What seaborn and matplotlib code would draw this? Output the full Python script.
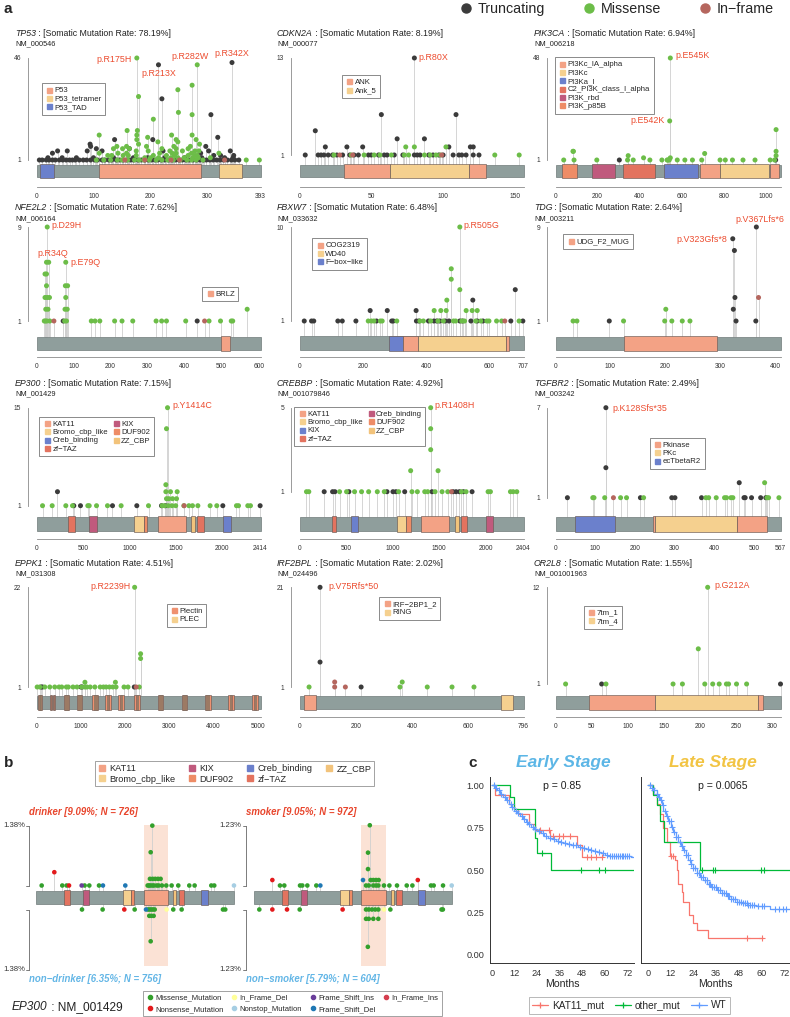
import numpy as np
import pandas as pd
import seaborn as sns
import matplotlib.pyplot as plt
from matplotlib.lines import Line2D
from matplotlib.patches import Rectangle

sns.set_style("white")
plt.rcParams['font.family'] = ['Liberation Sans', 'DejaVu Sans']

W, H = 790, 1017

# ---------------- panel a data ----------------
GENE_NAMES = ['TP53', 'CDKN2A', 'PIK3CA', 'NFE2L2', 'FBXW7', 'TDG',
              'EP300', 'CREBBP', 'TGFBR2', 'EPPK1', 'IRF2BPL', 'OR2L8']
REFSEQ = ['NM_000546', 'NM_000077', 'NM_006218', 'NM_006164', 'NM_033632', 'NM_003211',
          'NM_001429', 'NM_001079846', 'NM_003242', 'NM_031308', 'NM_024496', 'NM_001001963']
RATES = ['78.19', '8.19', '6.94', '7.62', '6.48', '2.64', '7.15', '4.92', '2.49', '4.51', '2.02', '1.55']
LENGTHS = [393, 156, 1068, 605, 707, 410, 2414, 2404, 567, 5065, 796, 312]
YMAX = [46, 13, 48, 9, 10, 9, 15, 5, 7, 22, 21, 12]
XTICKS = [[0, 100, 200, 300, 393], [0, 50, 100, 150], [0, 200, 400, 600, 800, 1000],
          [0, 100, 200, 300, 400, 500, 600], [0, 200, 400, 600, 707], [0, 100, 200, 300, 400],
          [0, 500, 1000, 1500, 2000, 2414], [0, 500, 1000, 1500, 2000, 2404],
          [0, 100, 200, 300, 400, 500, 567], [0, 1000, 2000, 3000, 4000, 5000],
          [0, 200, 400, 600, 796], [0, 50, 100, 150, 200, 250, 300]]

TP53_DOM = [('P53_TAD', 6, 30), ('P53', 110, 289), ('P53_tetramer', 320, 360)]
CDKN2A_DOM = [('ANK', 31, 63), ('Ank_5', 63, 118), ('ANK', 118, 130)]
PIK3CA_DOM = [('PI3K_p85B', 33, 104), ('PI3K_rbd', 171, 283), ('C2_PI3K_class_I_alpha', 319, 474),
              ('PI3Ka_I', 513, 678), ('PI3Kc_IA_alpha', 684, 782), ('PI3Kc', 782, 1015),
              ('PI3Kc_IA_alpha', 1018, 1060)]
NFE2L2_DOM = [('BRLZ', 498, 522)]
FBXW7_DOM = [('F\u2212box\u2212like', 282, 326), ('COG2319', 326, 374), ('WD40', 374, 653), ('COG2319', 653, 662)]
TDG_DOM = [('UDG_F2_MUG', 124, 294)]
EP300_DOM = [('zf\u2212TAZ', 341, 417), ('KIX', 571, 650), ('Bromo_cbp_like', 1056, 1156),
             ('DUF902', 1160, 1196), ('KAT11', 1311, 1609), ('ZZ_CBP', 1667, 1710),
             ('zf\u2212TAZ', 1735, 1807), ('Creb_binding', 2008, 2094)]
CREBBP_DOM = [('zf\u2212TAZ', 344, 394), ('KIX', 548, 627), ('Bromo_cbp_like', 1050, 1147),
              ('DUF902', 1147, 1193), ('KAT11', 1300, 1605), ('ZZ_CBP', 1666, 1709),
              ('zf\u2212TAZ', 1734, 1799), ('Creb_binding', 1999, 2078)]
TGFBR2_DOM = [('ecTbetaR2', 48, 150), ('Pkinase', 246, 251), ('PKc', 251, 457), ('Pkinase', 457, 532)]
EPPK1_DOM = [('Plectin', 35, 125), ('Plectin', 300, 350), ('Plectin', 365, 420), ('Plectin', 615, 740),
             ('Plectin', 910, 1040), ('Plectin', 1265, 1400), ('Plectin', 1555, 1690),
             ('Plectin', 1840, 1975), ('Plectin', 2200, 2330), ('Plectin', 2740, 2870),
             ('Plectin', 3280, 3410), ('Plectin', 3800, 3935), ('Plectin', 4335, 4465),
             ('Plectin', 4870, 5000),
             ('PLEC', 62, 75), ('PLEC', 85, 98), ('PLEC', 318, 332), ('PLEC', 385, 400),
             ('PLEC', 652, 668), ('PLEC', 688, 703), ('PLEC', 949, 965), ('PLEC', 985, 1001),
             ('PLEC', 1305, 1322), ('PLEC', 1343, 1360), ('PLEC', 1595, 1612), ('PLEC', 1633, 1650),
             ('PLEC', 1880, 1897), ('PLEC', 1918, 1935), ('PLEC', 2239, 2255), ('PLEC', 2275, 2291),
             ('PLEC', 2779, 2795), ('PLEC', 2815, 2831), ('PLEC', 3319, 3335), ('PLEC', 3355, 3371),
             ('PLEC', 3840, 3857), ('PLEC', 3878, 3895), ('PLEC', 4374, 4390), ('PLEC', 4410, 4426),
             ('PLEC', 4909, 4925), ('PLEC', 4945, 4961)]
IRF2BPL_DOM = [('IRF\u22122BP1_2', 15, 60), ('RING', 716, 757)]
OR2L8_DOM = [('7tm_1', 46, 138), ('7tm_4', 138, 281), ('7tm_1', 281, 288)]

# mutations: (protein position, number of samples)
TP53_TRUNC = [(214, 43), (220, 28), (343, 44), (306, 21), (137, 10), (94, 8), (318, 11), (204, 10),
              (54, 5), (37, 5), (28, 4), (89, 5), (95, 7), (105, 6), (115, 5), (163, 6), (222, 5),
              (288, 4), (297, 7), (302, 5), (311, 3), (323, 3), (340, 5), (346, 3), (20, 2), (45, 2),
              (70, 2), (100, 2), (135, 2), (170, 2), (195, 2), (225, 2), (260, 2), (290, 2), (330, 2),
              (345, 2), (5, 1), (10, 1), (17, 1), (22, 1), (28, 1), (33, 1), (40, 1), (46, 1), (52, 1),
              (58, 1), (63, 1), (68, 1), (75, 1), (82, 1), (88, 1), (95, 1), (102, 1), (107, 1),
              (115, 1), (120, 1), (127, 1), (132, 1), (140, 1), (146, 1), (152, 1), (158, 1), (165, 1),
              (170, 1), (178, 1), (184, 1), (190, 1), (196, 1), (202, 1), (208, 1), (213, 1), (219, 1),
              (225, 1), (232, 1), (238, 1), (244, 1), (250, 1), (256, 1), (262, 1), (268, 1), (275, 1),
              (281, 1), (287, 1), (293, 1), (298, 1), (304, 1), (310, 1), (316, 1), (322, 1), (328, 1),
              (335, 1), (342, 1), (348, 1), (355, 1)]
TP53_MISS = [(176, 46), (179, 29), (248, 32), (249, 22), (273, 34), (273, 21), (282, 43), (205, 19),
             (110, 12), (159, 14), (177, 14), (176, 12), (176, 10), (237, 12), (245, 10), (273, 12),
             (280, 10), (286, 8), (195, 11), (213, 9), (141, 7), (135, 6), (151, 6), (158, 7), (163, 6),
             (193, 7), (196, 5), (220, 6), (234, 5), (241, 7), (245, 6), (256, 5), (266, 6), (270, 7),
             (278, 5), (285, 5), (248, 9), (245, 4), (158, 4), (175, 5), (179, 8), (216, 4), (238, 4),
             (266, 3), (132, 3), (143, 4), (152, 3), (161, 3), (110, 4), (125, 3), (272, 4), (175, 3),
             (282, 3), (190, 2), (200, 2), (205, 3), (214, 2), (228, 3), (236, 2), (242, 3), (248, 2),
             (259, 2), (274, 2), (278, 3), (284, 2), (305, 2), (320, 4), (105, 1), (118, 1), (130, 1),
             (142, 1), (150, 1), (160, 1), (172, 1), (180, 1), (188, 1), (198, 1), (210, 1), (220, 1),
             (230, 1), (240, 1), (252, 1), (264, 1), (272, 1), (280, 1), (292, 1), (368, 1), (391, 1)]
TP53_INFR = [(155, 1), (190, 1), (236, 1), (251, 1), (330, 1)]

CDKN2A_TRUNC = [(80, 13), (11, 4), (57, 6), (109, 6), (68, 3), (87, 3), (18, 2), (33, 2), (44, 2),
                (104, 2), (119, 2), (121, 2), (4, 1), (13, 1), (15, 1), (17, 1), (20, 1), (23, 1),
                (26, 1), (30, 1), (35, 1), (38, 1), (41, 1), (48, 1), (50, 1), (55, 1), (59, 1), (61, 1),
                (66, 1), (72, 1), (80, 1), (82, 1), (84, 1), (90, 1), (93, 1), (97, 1), (100, 1),
                (107, 1), (111, 1), (113, 1), (116, 1), (121, 1), (125, 1)]
CDKN2A_MISS = [(74, 2), (80, 2), (102, 2), (24, 1), (36, 1), (45, 1), (52, 1), (56, 1), (64, 1),
               (73, 1), (76, 1), (87, 1), (91, 1), (95, 1), (98, 1), (136, 1), (153, 1)]
CDKN2A_INFR = [(28, 1), (37, 1), (99, 1)]

PIK3CA_TRUNC = [(303, 1), (1045, 1)]
PIK3CA_MISS = [(545, 48), (542, 19), (1047, 15), (1047, 5), (1047, 3), (85, 5), (345, 3), (418, 2),
               (708, 4), (545, 2), (83, 5), (39, 1), (88, 1), (196, 1), (342, 1), (369, 1), (448, 1),
               (505, 1), (530, 1), (533, 1), (540, 1), (578, 1), (614, 1), (650, 1), (694, 1),
               (781, 1), (806, 1), (840, 1), (890, 1), (947, 1), (1019, 1), (1040, 1)]
PIK3CA_INFR = []

NFE2L2_TRUNC = [(72, 1), (434, 1)]
NFE2L2_MISS = [(29, 9), (27, 6), (33, 6), (23, 5), (27, 5), (27, 4), (23, 3), (29, 3), (35, 3),
               (25, 2), (31, 2), (21, 1), (24, 1), (28, 1), (36, 1), (79, 6), (78, 4), (84, 4),
               (79, 3), (77, 2), (83, 2), (76, 1), (81, 1), (148, 1), (158, 1), (171, 1), (211, 1),
               (231, 1), (260, 1), (323, 1), (338, 1), (351, 1), (403, 1), (466, 1), (497, 1),
               (526, 1), (530, 1), (569, 2)]
NFE2L2_INFR = [(47, 1), (454, 1)]

FBXW7_TRUNC = [(681, 4), (547, 3), (368, 2), (223, 2), (277, 2), (15, 1), (38, 1), (45, 1), (121, 1),
               (135, 1), (178, 1), (243, 1), (291, 1), (296, 1), (369, 1), (377, 1), (407, 1),
               (424, 1), (433, 1), (443, 1), (460, 1), (472, 1), (506, 1), (515, 1), (541, 1),
               (561, 1), (579, 1), (667, 1), (705, 1)]
FBXW7_MISS = [(506, 10), (479, 6), (479, 5), (506, 4), (465, 3), (425, 2), (446, 2), (463, 2),
              (526, 2), (545, 2), (561, 2), (217, 1), (227, 1), (235, 1), (255, 1), (261, 1),
              (307, 1), (380, 1), (391, 1), (414, 1), (437, 1), (454, 1), (486, 1), (493, 1),
              (512, 1), (521, 1), (556, 1), (572, 1), (591, 1), (598, 1), (622, 1), (638, 1), (693, 1)]
FBXW7_INFR = [(648, 1)]

TDG_TRUNC = [(98, 1), (323, 8), (326, 7), (327, 3), (324, 2), (329, 1), (366, 9), (365, 1)]
TDG_MISS = [(32, 1), (39, 1), (124, 1), (199, 1), (201, 2), (212, 1), (231, 1), (245, 1)]
TDG_INFR = [(370, 3)]

EP300_TRUNC = [(226, 3), (402, 1), (474, 1), (819, 1), (1081, 1), (1347, 1), (1390, 1), (2008, 1), (2410, 1)]
EP300_MISS = [(1412, 15), (1401, 12), (1394, 4), (1394, 3), (1444, 3), (1516, 3), (1401, 2),
              (1426, 2), (1466, 2), (1509, 2), (65, 1), (169, 1), (316, 1), (388, 1), (553, 1),
              (568, 1), (647, 1), (765, 1), (912, 1), (1207, 1), (1354, 1), (1380, 1), (1420, 1),
              (1460, 1), (1500, 1), (1588, 1), (1642, 1), (1681, 1), (1739, 1), (1871, 1), (1943, 1),
              (2155, 1), (2177, 1), (2277, 1), (2306, 1)]
EP300_INFR = [(1591, 1)]

CREBBP_TRUNC = [(265, 1), (355, 1), (380, 1), (530, 1), (939, 1), (1003, 1), (1035, 1), (1129, 1),
                (1422, 1), (1648, 1), (1680, 1), (1716, 1), (1759, 1), (1852, 1)]
CREBBP_MISS = [(1408, 5), (1408, 4), (1408, 3), (1193, 2), (1487, 2), (75, 1), (100, 1), (430, 1),
               (505, 1), (591, 1), (666, 1), (742, 1), (835, 1), (910, 1), (1064, 1), (1207, 1),
               (1265, 1), (1344, 1), (1376, 1), (1455, 1), (1530, 1), (1591, 1), (1738, 1), (1788, 1),
               (2024, 1), (2049, 1), (2264, 1), (2293, 1), (2332, 1)]
CREBBP_INFR = [(1630, 1)]

TGFBR2_TRUNC = [(127, 7), (127, 3), (463, 2), (30, 1), (214, 1), (293, 1), (301, 1), (368, 1),
                (475, 1), (478, 1), (494, 1), (517, 1), (530, 1)]
TGFBR2_MISS = [(527, 2), (94, 1), (97, 1), (124, 1), (164, 1), (179, 1), (222, 1), (379, 1), (386, 1),
               (405, 1), (426, 1), (431, 1), (442, 1), (447, 1), (533, 1), (537, 1), (563, 1)]
TGFBR2_INFR = [(146, 1)]

EPPK1_TRUNC = [(105, 1), (135, 1), (1005, 1), (1034, 1), (2211, 1)]
EPPK1_MISS = [(2219, 22), (2354, 8), (2354, 7), (1095, 2), (1784, 2), (15, 1), (75, 1), (187, 1),
              (300, 1), (412, 1), (510, 1), (570, 1), (675, 1), (720, 1), (825, 1), (915, 1),
              (1020, 1), (1094, 1), (1140, 1), (1214, 1), (1319, 1), (1439, 1), (1514, 1), (1574, 1),
              (1649, 1), (1724, 1), (1799, 1), (1979, 1), (2069, 1), (2324, 1)]
EPPK1_INFR = [(2256, 1)]

IRF2BPL_TRUNC = [(73, 21), (73, 6), (219, 1)]
IRF2BPL_MISS = [(34, 1), (357, 1), (365, 2), (454, 1), (542, 1), (620, 1)]
IRF2BPL_INFR = [(125, 2), (125, 1), (163, 1)]

OR2L8_TRUNC = [(64, 1), (312, 1)]
OR2L8_MISS = [(211, 12), (198, 5), (14, 1), (70, 1), (163, 1), (176, 1), (207, 1), (218, 1),
              (227, 1), (237, 1), (240, 1), (251, 1), (265, 1)]
OR2L8_INFR = []

LABELS = {
    'TP53': [('p.R175H', 176, 46), ('p.R213X', 214, 43), ('p.R282W', 282, 43), ('p.R342X', 343, 44)],
    'CDKN2A': [('p.R80X', 80, 13)],
    'PIK3CA': [('p.E545K', 545, 48), ('p.E542K', 542, 19)],
    'NFE2L2': [('p.D29H', 29, 9), ('p.R34Q', 30, 6), ('p.E79Q', 79, 6)],
    'FBXW7': [('p.R505G', 506, 10)],
    'TDG': [('p.V323Gfs*8', 323, 8), ('p.V367Lfs*6', 366, 9)],
    'EP300': [('p.Y1414C', 1412, 15)],
    'CREBBP': [('p.R1408H', 1408, 5)],
    'TGFBR2': [('p.K128Sfs*35', 127, 7)],
    'EPPK1': [('p.R2239H', 2219, 22)],
    'IRF2BPL': [('p.V75Rfs*50', 73, 21)],
    'OR2L8': [('p.G212A', 211, 12)],
}

DOMAINS = [TP53_DOM, CDKN2A_DOM, PIK3CA_DOM, NFE2L2_DOM, FBXW7_DOM, TDG_DOM,
           EP300_DOM, CREBBP_DOM, TGFBR2_DOM, EPPK1_DOM, IRF2BPL_DOM, OR2L8_DOM]
MUTS = [(TP53_TRUNC, TP53_MISS, TP53_INFR), (CDKN2A_TRUNC, CDKN2A_MISS, CDKN2A_INFR),
        (PIK3CA_TRUNC, PIK3CA_MISS, PIK3CA_INFR), (NFE2L2_TRUNC, NFE2L2_MISS, NFE2L2_INFR),
        (FBXW7_TRUNC, FBXW7_MISS, FBXW7_INFR), (TDG_TRUNC, TDG_MISS, TDG_INFR),
        (EP300_TRUNC, EP300_MISS, EP300_INFR), (CREBBP_TRUNC, CREBBP_MISS, CREBBP_INFR),
        (TGFBR2_TRUNC, TGFBR2_MISS, TGFBR2_INFR), (EPPK1_TRUNC, EPPK1_MISS, EPPK1_INFR),
        (IRF2BPL_TRUNC, IRF2BPL_MISS, IRF2BPL_INFR), (OR2L8_TRUNC, OR2L8_MISS, OR2L8_INFR)]

# ---------------- panel b data (EP300, maftools style) ----------------
MIS, NON, IFD, NST = 'Missense_Mutation', 'Nonsense_Mutation', 'In_Frame_Del', 'Nonstop_Mutation'
FSI, FSD, IFI = 'Frame_Shift_Ins', 'Frame_Shift_Del', 'In_Frame_Ins'
GROUP_TITLES = [('drinker [9.09%; N = 726]', 'non\u2212drinker [6.35%; N = 756]'),
                ('smoker [9.05%; N = 972]', 'non\u2212smoker [5.79%; N = 604]')]
GROUP_N = [(726, 756), (972, 604)]
DRINKER = [(69, 1, MIS), (320, 1, MIS), (373, 1, MIS), (592, 1, MIS), (649, 1, MIS), (767, 1, MIS),
           (1359, 1, MIS), (1375, 1, MIS), (1391, 1, MIS), (1416, 1, MIS), (1436, 1, MIS),
           (1469, 1, MIS), (1493, 1, MIS), (1533, 1, MIS), (1387, 2, MIS), (1420, 2, MIS),
           (1452, 2, MIS), (1485, 2, MIS), (1517, 2, MIS), (1396, 6, MIS), (1416, 10, MIS),
           (1586, 1, MIS), (1651, 1, MIS), (1732, 1, MIS), (1866, 1, MIS), (1931, 1, MIS),
           (2134, 1, MIS), (2170, 1, MIS), (223, 3, NON), (402, 1, NON), (556, 1, FSI),
           (815, 1, FSD), (1087, 1, FSD), (2410, 1, NST)]
NON_DRINKER = [(560, 1, MIS), (811, 1, MIS), (1201, 1, MIS), (1363, 1, MIS), (1383, 1, MIS),
               (1404, 1, MIS), (1424, 1, MIS), (1445, 1, MIS), (1379, 2, MIS), (1404, 2, MIS),
               (1432, 2, MIS), (1396, 6, MIS), (1671, 1, MIS), (1773, 1, MIS), (2276, 1, MIS),
               (2304, 1, MIS), (1075, 1, NON), (1339, 1, FSD), (1590, 1, IFD)]
SMOKER = [(317, 1, MIS), (370, 1, MIS), (562, 1, MIS), (590, 1, MIS), (651, 1, MIS), (761, 1, MIS),
          (1368, 1, MIS), (1401, 1, MIS), (1457, 1, MIS), (1490, 1, MIS), (1518, 1, MIS),
          (1424, 2, MIS), (1457, 2, MIS), (1490, 2, MIS), (1522, 2, MIS), (1392, 4, MIS),
          (1392, 7, MIS), (1414, 12, MIS), (1587, 1, MIS), (1653, 1, MIS), (1746, 1, MIS),
          (1865, 1, MIS), (1934, 1, MIS), (2161, 1, MIS), (2194, 1, MIS), (2308, 1, MIS),
          (224, 2, NON), (2000, 2, NON), (810, 1, FSD), (1331, 2, FSD), (2414, 1, NST)]
NON_SMOKER = [(65, 1, MIS), (558, 1, MIS), (1368, 1, MIS), (1401, 1, MIS), (1440, 1, MIS),
              (1480, 1, MIS), (1518, 1, MIS), (1368, 2, MIS), (1401, 2, MIS), (1457, 2, MIS),
              (1518, 2, MIS), (1390, 5, MIS), (1665, 1, MIS), (2290, 1, MIS), (2306, 1, MIS),
              (224, 1, NON), (403, 1, NON), (1082, 1, NON), (1587, 1, IFD)]

# ---------------- panel c data (Kaplan-Meier, months / survival) ----------------
EARLY_KAT_T = [0, 2, 9, 12, 14, 20, 23, 31, 45.5, 48, 58.4]
EARLY_KAT_S = [1.0, 0.94, 0.89, 0.86, 0.83, 0.77, 0.735, 0.70, 0.647, 0.578, 0.578]
EARLY_KAT_CENS = [25.6, 30.4, 32.7, 35.9, 37.7, 41.6, 50.4, 52.9, 55.2, 58.4]
EARLY_OTH_T = [0, 9.5, 12, 23, 24, 31.3, 75.6]
EARLY_OTH_S = [1.0, 0.93, 0.86, 0.69, 0.60, 0.50, 0.50]
EARLY_OTH_CENS = [26.9, 47.4, 57.0, 60.0]
EARLY_WT_T = [0, 1.5, 3, 4.5, 6, 7.5, 9, 10.5, 12, 13.5, 15, 16.5, 18, 19.5, 21, 22.5, 24, 26, 28,
              30, 32, 34, 36, 38, 40, 42, 44, 46, 48, 50, 52, 54, 56, 58, 60, 62, 74, 75.6]
EARLY_WT_S = [1.0, 0.985, 0.97, 0.95, 0.93, 0.91, 0.89, 0.87, 0.85, 0.835, 0.82, 0.80, 0.785, 0.77,
              0.755, 0.74, 0.73, 0.715, 0.70, 0.69, 0.68, 0.672, 0.665, 0.66, 0.655, 0.65, 0.645,
              0.638, 0.632, 0.626, 0.62, 0.612, 0.605, 0.598, 0.59, 0.584, 0.575, 0.575]
EARLY_WT_CENS = [1, 2.5, 4, 5, 7, 8, 10, 11, 13, 14, 16, 17, 19, 20, 22, 23, 25, 27, 29, 31, 33, 35,
                 37, 39, 41, 43, 45, 47, 49, 51, 53, 55, 57, 59, 61, 63, 64, 65, 66, 67, 68, 69, 70,
                 71, 72, 73]
LATE_KAT_T = [0, 3, 4.7, 6.5, 8.2, 10.0, 11.7, 14.4, 15.3, 16.1, 17.9, 18.7, 21.7, 24.0, 25.8, 31.9, 60.8]
LATE_KAT_S = [1.0, 0.95, 0.89, 0.83, 0.745, 0.667, 0.58, 0.56, 0.50, 0.42, 0.37, 0.31, 0.235, 0.186,
              0.147, 0.098, 0.098]
LATE_KAT_CENS = [12.4, 13.2, 52.1, 60.1]
LATE_OTH_T = [0, 3, 4.7, 6.5, 8.8, 27.5, 75]
LATE_OTH_S = [1.0, 0.94, 0.88, 0.79, 0.667, 0.50, 0.50]
LATE_OTH_CENS = [28.4, 34.5, 35.4, 59.5, 61.4]
LATE_WT_T = [0, 2, 3, 4.7, 5.5, 6.5, 7.5, 8.2, 9.5, 10.9, 12.2, 13.5, 14.8, 16.1, 17.4, 18.7, 20,
             21.4, 22.7, 24, 25.7, 27.5, 29.3, 31.1, 33.5, 36.3, 39, 41.6, 44, 46.8, 49.5, 52.1, 57,
             62.6, 64.4, 75]
LATE_WT_S = [1.0, 0.985, 0.97, 0.95, 0.93, 0.91, 0.88, 0.85, 0.82, 0.79, 0.755, 0.725, 0.695, 0.667,
             0.64, 0.617, 0.59, 0.56, 0.535, 0.51, 0.485, 0.46, 0.44, 0.42, 0.40, 0.38, 0.363, 0.347,
             0.33, 0.314, 0.304, 0.294, 0.291, 0.288, 0.27, 0.27]
LATE_WT_CENS = [1, 2.5, 3.5, 5, 6, 7, 8, 9, 10, 11, 12, 13, 14, 15, 16, 17, 18, 19, 20, 21, 22, 23,
                24, 25, 26, 27, 28, 29, 30, 31, 32, 33, 34, 35, 36, 37, 38, 39, 40, 41, 42, 43, 44,
                45, 46, 47, 48, 49, 50, 51, 52, 53, 54, 55, 56, 58, 60, 61, 67, 69, 71, 73]
P_VALUES = ['p = 0.85', 'p = 0.0065']
KM_GROUPS = ['KAT11_mut', 'other_mut', 'WT']

# ---------------- styles ----------------
KIND_COLORS = {'Truncating': '#3b3b3b', 'Missense': '#6cbd48', 'In\u2212frame': '#b5665e'}
SALMON, TAN, BLUE, REDOR, MAGENTA, ORANGE, ZZ = ('#f3a285', '#f5d08f', '#6b80cc', '#e3735f',
                                                 '#c05a7d', '#ee8c66', '#f2c37b')
DOM_COLORS = {
    'TP53': {'P53': SALMON, 'P53_tetramer': TAN, 'P53_TAD': BLUE},
    'CDKN2A': {'ANK': SALMON, 'Ank_5': TAN},
    'PIK3CA': {'PI3Kc_IA_alpha': SALMON, 'PI3Kc': TAN, 'PI3Ka_I': BLUE,
               'C2_PI3K_class_I_alpha': REDOR, 'PI3K_rbd': MAGENTA, 'PI3K_p85B': ORANGE},
    'NFE2L2': {'BRLZ': SALMON},
    'FBXW7': {'COG2319': SALMON, 'WD40': TAN, 'F\u2212box\u2212like': BLUE},
    'TDG': {'UDG_F2_MUG': SALMON},
    'EP300': {'KAT11': SALMON, 'Bromo_cbp_like': TAN, 'Creb_binding': BLUE, 'zf\u2212TAZ': REDOR,
              'KIX': MAGENTA, 'DUF902': ORANGE, 'ZZ_CBP': ZZ},
    'CREBBP': {'KAT11': SALMON, 'Bromo_cbp_like': TAN, 'KIX': BLUE, 'zf\u2212TAZ': REDOR,
               'Creb_binding': MAGENTA, 'DUF902': ORANGE, 'ZZ_CBP': ZZ},
    'TGFBR2': {'Pkinase': SALMON, 'PKc': TAN, 'ecTbetaR2': BLUE},
    'EPPK1': {'Plectin': '#ef9170', 'PLEC': TAN},
    'IRF2BPL': {'IRF\u22122BP1_2': SALMON, 'RING': TAN},
    'OR2L8': {'7tm_1': SALMON, '7tm_4': TAN},
}
MAF_COLORS = {MIS: '#33A02C', NON: '#E31A1C', IFD: '#FFFF99', NST: '#A6CEE3',
              FSI: '#6A3D9A', FSD: '#1F78B4', IFI: '#D53E4F'}
KM_COLORS = ['#F8766D', '#00BA38', '#619CFF']
LABEL_RED = '#ec4b2e'
BAR_GRAY = '#8f9e9c'

# layout (pixels in the 790x1017 canvas)
COL_X0 = [36.5, 299.5, 555.5]
COL_X1 = [260.5, 523.5, 780.5]
TITLE_X = [15, 277, 534]
ROWS = [dict(title=34, nm=44, top=58, bar=(165, 177), axis=187),
        dict(title=208, nm=219, top=227, bar=(336.5, 350), axis=356.7),
        dict(title=384, nm=394, top=407.7, bar=(517, 531), axis=539),
        dict(title=563, nm=574, top=587.3, bar=(696, 709), axis=716.7)]
ONE_PX = [160, 155, 160, 321, 321, 321, 505.7, 491.7, 497.7, 687, 687, 684]
LEGEND_UL = [(41.7, 83.3), (341.7, 75), (555, 57.3), (202.3, 286.7), (312.3, 238.3), (563.3, 234.3),
             (39.3, 416.7), (294.3, 406.7), (650, 437.7), (166.7, 604), (379.3, 597), (583.7, 605.7)]
LABEL_LAYOUT = {
    'p.R175H': (-5, 2, 'right'), 'p.R213X': (0, 9, 'center'), 'p.R282W': (-7, -8, 'center'),
    'p.R342X': (0, -9, 'center'), 'p.R80X': (4, 0, 'left'), 'p.E545K': (5, -3, 'left'),
    'p.E542K': (-5, 0, 'right'), 'p.D29H': (4, -1, 'left'), 'p.R34Q': (5, -9, 'center'),
    'p.E79Q': (5, 0, 'left'), 'p.R505G': (4, -1, 'left'), 'p.V323Gfs*8': (-5, 1, 'right'),
    'p.V367Lfs*6': (3, -8, 'center'), 'p.Y1414C': (5, -2, 'left'), 'p.R1408H': (4, -2, 'left'),
    'p.K128Sfs*35': (7, 1, 'left'), 'p.R2239H': (-4, -1, 'right'), 'p.V75Rfs*50': (8, -1, 'left'),
    'p.G212A': (7, -2, 'left'),
}

fig = plt.figure(figsize=(W / 100, H / 100), dpi=100)
renderer = fig.canvas.get_renderer()


def px_box(x0, y0, x1, y1):
    return [x0 / W, 1 - y1 / H, (x1 - x0) / W, (y1 - y0) / H]


def fx(x):
    return x / W


def fy(y):
    return 1 - y / H


def mixed_text(x, y, italic, rest, size, color='#222222'):
    t = fig.text(fx(x), fy(y), italic, fontsize=size, style='italic', va='center', color=color)
    bb = t.get_window_extent(renderer)
    fig.text(bb.x1 / fig.bbox.width, fy(y), rest, fontsize=size, va='center', color=color)


def lollipop(i):
    gene = GENE_NAMES[i]
    col, row = i % 3, i // 3
    r = ROWS[row]
    x0, x1 = COL_X0[col], COL_X1[col]
    length, ymax, one, top = LENGTHS[i], YMAX[i], ONE_PX[i], r['top']
    ax = fig.add_axes(px_box(x0 - 9, top - 5, x1 + 3, r['axis']))
    ppa = (x1 - x0) / length
    ppc = (one - top) / (ymax - 1)
    bar_lo = 1 - (r['bar'][1] - one) / ppc
    bar_hi = 1 - (r['bar'][0] - one) / ppc

    rows = []
    for kind, lst in zip(KIND_COLORS, MUTS[i]):
        rows += [(p, c, kind) for p, c in lst]
    df = pd.DataFrame(rows, columns=['pos', 'count', 'kind'])

    ax.vlines(df['pos'], bar_hi, df['count'], color='#cfcfcf', lw=0.6, zorder=1)
    ax.add_patch(Rectangle((0, bar_lo), length, bar_hi - bar_lo, facecolor=BAR_GRAY,
                           edgecolor='#6f7a79', lw=0.5, zorder=2))
    pad = 0.8 / ppc
    for name, s, e in DOMAINS[i]:
        ax.add_patch(Rectangle((s, bar_lo - pad), e - s, bar_hi - bar_lo + 2 * pad,
                               facecolor=DOM_COLORS[gene][name], edgecolor='#6a5a55', lw=0.45, zorder=3))
    sns.scatterplot(data=df, x='pos', y='count', hue='kind', palette=KIND_COLORS,
                    hue_order=list(KIND_COLORS), s=13, linewidth=0, legend=False, ax=ax, zorder=4,
                    clip_on=False)
    ax.set_xlim(-9 / ppa, length + 3 / ppa)
    ax.set_ylim(1 - (r['axis'] - one) / ppc, ymax + 5 / ppc)
    ax.set_xlabel('')
    ax.set_ylabel('')
    for side in ['top', 'right']:
        ax.spines[side].set_visible(False)
    ax.spines['left'].set_bounds(1, ymax)
    ax.spines['bottom'].set_bounds(0, length)
    for side in ['left', 'bottom']:
        ax.spines[side].set_color('#8a8a8a')
        ax.spines[side].set_linewidth(0.6)
    ax.set_yticks([1, ymax])
    ax.set_yticklabels(['1', str(ymax)])
    ax.set_xticks(XTICKS[i])
    ax.tick_params(labelsize=4.8, length=2.5, width=0.5, color='#8a8a8a', labelcolor='#333333', pad=2)
    ax.patch.set_alpha(0)

    for text, p, c in LABELS[gene]:
        dx, dy, ha = LABEL_LAYOUT[text]
        ax.annotate(text, xy=(p, c), xytext=(dx * 0.72, -dy * 0.72), textcoords='offset points',
                    ha=ha, va='center', color=LABEL_RED, fontsize=6.4, zorder=6)

    seen = []
    for name, _, _ in DOMAINS[i]:
        if name not in seen:
            seen.append(name)
    order = [n for n in DOM_COLORS[gene] if n in seen]
    handles = [Line2D([], [], marker='s', ls='', color=DOM_COLORS[gene][n], markersize=3.6, label=n)
               for n in order]
    ul = LEGEND_UL[i]
    leg = ax.legend(handles=handles, loc='upper left', bbox_to_anchor=(fx(ul[0]), fy(ul[1])),
                    bbox_transform=fig.transFigure, fontsize=5.6, frameon=True, fancybox=False,
                    edgecolor='#777777', borderpad=0.45, handletextpad=0.2, labelspacing=0.12,
                    handlelength=1.0, borderaxespad=0, ncol=2 if len(order) > 6 else 1,
                    columnspacing=0.5, framealpha=1)
    leg.get_frame().set_linewidth(0.6)
    leg.set_zorder(7)

    mixed_text(TITLE_X[col], r['title'], gene, ' : [Somatic Mutation Rate: %s%%]' % RATES[i], 6.3)
    fig.text(fx(TITLE_X[col]), fy(r['nm']), REFSEQ[i], fontsize=5.3, va='center', color='#222222')


for i in range(len(GENE_NAMES)):
    lollipop(i)

fig.legend(handles=[Line2D([], [], marker='o', ls='', color=c, markersize=6.5, label=k)
                    for k, c in KIND_COLORS.items()],
           loc='center', bbox_to_anchor=(fx(617), fy(9)), ncol=3, frameon=False, fontsize=10.3,
           handletextpad=0.4, columnspacing=2.7, handlelength=0.8)
fig.text(fx(4), fy(9), 'a', fontsize=11, fontweight='bold', va='center')


# ---------------- panel b ----------------
def mirror(k, axis_x, bar_x0, bar_x1, upper, lower):
    top_px, bot_px, mid_px, unit, gap, half = 820, 976, 897.5, 60.0, 0.2, 0.11
    length = LENGTHS[6]
    ppa = (bar_x1 - bar_x0) / length
    ax = fig.add_axes(px_box(axis_x - 12, top_px, bar_x1 + 4, bot_px))
    ax.axis('off')
    n_up, n_low = GROUP_N[k]
    pmax = max(max(c for _, c, _ in upper) / n_up, max(c for _, c, _ in lower) / n_low) * 100
    pmax = round(pmax, 2)

    kat = [d for d in EP300_DOM if d[0] == 'KAT11'][0]
    ax.add_patch(Rectangle((kat[1], -1.15), kat[2] - kat[1], 2.35, facecolor='#fbe2d5',
                           edgecolor='none', zorder=0))

    frames = []
    for lst, n, sign in [(upper, n_up, 1), (lower, n_low, -1)]:
        d = pd.DataFrame(lst, columns=['pos', 'count', 'cls'])
        d['y'] = sign * (gap + (d['count'] - 1) / (pmax * n / 100 - 1))
        d['base'] = sign * half
        frames.append(d)
    df = pd.concat(frames, ignore_index=True)
    ax.vlines(df['pos'], df['base'], df['y'], color='#cfcfcf', lw=0.6, zorder=1)
    ax.add_patch(Rectangle((0, -half), length, 2 * half, facecolor=BAR_GRAY, edgecolor='#6f7a79',
                           lw=0.5, zorder=2))
    for name, s, e in EP300_DOM:
        ax.add_patch(Rectangle((s, -half - 0.02), e - s, 2 * half + 0.04,
                               facecolor=DOM_COLORS['EP300'][name], edgecolor='#6a5a55', lw=0.45,
                               zorder=3))
    sns.scatterplot(data=df, x='pos', y='y', hue='cls', palette=MAF_COLORS, s=11, linewidth=0,
                    legend=False, ax=ax, zorder=4, clip_on=False)
    ax.set_xlim((axis_x - 12 - bar_x0) / ppa, length + 4 / ppa)
    ax.set_ylim(-(bot_px - mid_px) / unit, (mid_px - top_px) / unit)

    xa = (axis_x - bar_x0) / ppa
    tick = 3 / ppa
    for sign in [1, -1]:
        ax.plot([xa, xa], [sign * gap, sign * (gap + 1)], color='#666666', lw=0.6, clip_on=False)
        for yv in [gap, gap + 1]:
            ax.plot([xa - tick, xa], [sign * yv, sign * yv], color='#666666', lw=0.6, clip_on=False)
        ax.text(xa - 1.5 * tick, sign * (gap + 1), '%.2f%%' % pmax, ha='right', va='center',
                fontsize=5.6, color='#333333')
    up_t, low_t = GROUP_TITLES[k]
    fig.text(fx(axis_x), fy(812), up_t, fontsize=6.9, fontweight='bold', style='italic',
             color='#e8452c', va='center')
    fig.text(fx(axis_x), fy(979), low_t, fontsize=6.9, fontweight='bold', style='italic',
             color='#63b6e6', va='center')


mirror(0, 29.3, 36, 234.3, DRINKER, NON_DRINKER)
mirror(1, 245.7, 254, 451.7, SMOKER, NON_SMOKER)

b_order = ['KAT11', 'Bromo_cbp_like', 'KIX', 'DUF902', 'Creb_binding', 'zf\u2212TAZ', 'ZZ_CBP']
leg = fig.legend(handles=[Line2D([], [], marker='s', ls='', color=DOM_COLORS['EP300'][n],
                                 markersize=4.5, label=n) for n in b_order],
                 loc='upper left', bbox_to_anchor=(fx(95), fy(761)), ncol=4, fontsize=6.6,
                 frameon=True, fancybox=False, edgecolor='#777777', borderpad=0.3,
                 handletextpad=0.3, labelspacing=0.2, handlelength=1.0, columnspacing=1.3,
                 borderaxespad=0)
leg.get_frame().set_linewidth(0.6)
m_order = [MIS, NON, IFD, NST, FSI, FSD, IFI]
leg = fig.legend(handles=[Line2D([], [], marker='o', ls='', color=MAF_COLORS[n], markersize=3,
                                 label=n) for n in m_order],
                 loc='upper left', bbox_to_anchor=(fx(143), fy(991)), ncol=4, fontsize=5.5,
                 frameon=True, fancybox=False, edgecolor='#777777', borderpad=0.4,
                 handletextpad=0.2, labelspacing=0.55, handlelength=1.0, columnspacing=0.9,
                 borderaxespad=0)
leg.get_frame().set_linewidth(0.6)
mixed_text(12, 1007, GENE_NAMES[6], ' : ' + REFSEQ[6], 8.6)
fig.text(fx(4), fy(763), 'b', fontsize=11, fontweight='bold', va='center')

# ---------------- panel c ----------------
KM_DATA = [
    [(EARLY_KAT_T, EARLY_KAT_S, EARLY_KAT_CENS), (EARLY_OTH_T, EARLY_OTH_S, EARLY_OTH_CENS),
     (EARLY_WT_T, EARLY_WT_S, EARLY_WT_CENS)],
    [(LATE_KAT_T, LATE_KAT_S, LATE_KAT_CENS), (LATE_OTH_T, LATE_OTH_S, LATE_OTH_CENS),
     (LATE_WT_T, LATE_WT_S, LATE_WT_CENS)],
]
KM_BOXES = [(490, 634, -0.9, 75.6), (640.7, 790, -3.7, 74.9)]
for j, (x0, x1, xl0, xl1) in enumerate(KM_BOXES):
    ax = fig.add_axes(px_box(x0, 776.7, x1, 963.3))
    for (t, s, cens), color in zip(KM_DATA[j], KM_COLORS):
        sns.lineplot(x=t, y=s, drawstyle='steps-post', color=color, lw=0.9, ax=ax)
        t_arr, s_arr = np.array(t), np.array(s)
        cy = s_arr[np.searchsorted(t_arr, cens, side='right') - 1]
        ax.plot(cens, cy, ls='', marker='+', color=color, ms=4.2, mew=0.8)
    ax.set_xlim(xl0, xl1)
    ax.set_ylim(-0.049, 1.049)
    ax.set_xticks(range(0, 73, 12))
    ax.set_yticks([0, 0.25, 0.5, 0.75, 1.0])
    if j == 0:
        ax.set_yticklabels(['0.00', '0.25', '0.50', '0.75', '1.00'])
    else:
        ax.set_yticklabels([])
    ax.set_xlabel('Months', fontsize=7.6, labelpad=1)
    ax.set_ylabel('')
    for side in ['top', 'right']:
        ax.spines[side].set_visible(False)
    for side in ['left', 'bottom']:
        ax.spines[side].set_color('#333333')
        ax.spines[side].set_linewidth(0.7)
    ax.tick_params(labelsize=6.6, length=2.5, width=0.6, color='#333333', labelcolor='#333333', pad=1.5)
    ax.text(0.5 if j == 0 else 0.55, 0.95, P_VALUES[j], transform=ax.transAxes, ha='center',
            va='center', fontsize=7.6, color='#222222')

fig.text(fx(563), fy(763), 'Early Stage', fontsize=12.5, fontweight='bold', style='italic',
         color='#5cb6e6', ha='center', va='center')
fig.text(fx(713), fy(763), 'Late Stage', fontsize=12.5, fontweight='bold', style='italic',
         color='#f2c443', ha='center', va='center')
fig.text(fx(468), fy(763), 'c', fontsize=11, fontweight='bold', va='center')
leg = fig.legend(handles=[Line2D([], [], color=c, marker='+', ms=5, mew=0.9, lw=0.9, label=g)
                          for g, c in zip(KM_GROUPS, KM_COLORS)],
                 loc='center', bbox_to_anchor=(fx(629.5), fy(1005.5)), ncol=3, fontsize=7.3,
                 frameon=True, fancybox=False, edgecolor='#999999', borderpad=0.35,
                 handletextpad=0.4, handlelength=1.6, columnspacing=1.0)
leg.get_frame().set_linewidth(0.6)

fig.savefig('out.png', dpi=100, facecolor='white')
